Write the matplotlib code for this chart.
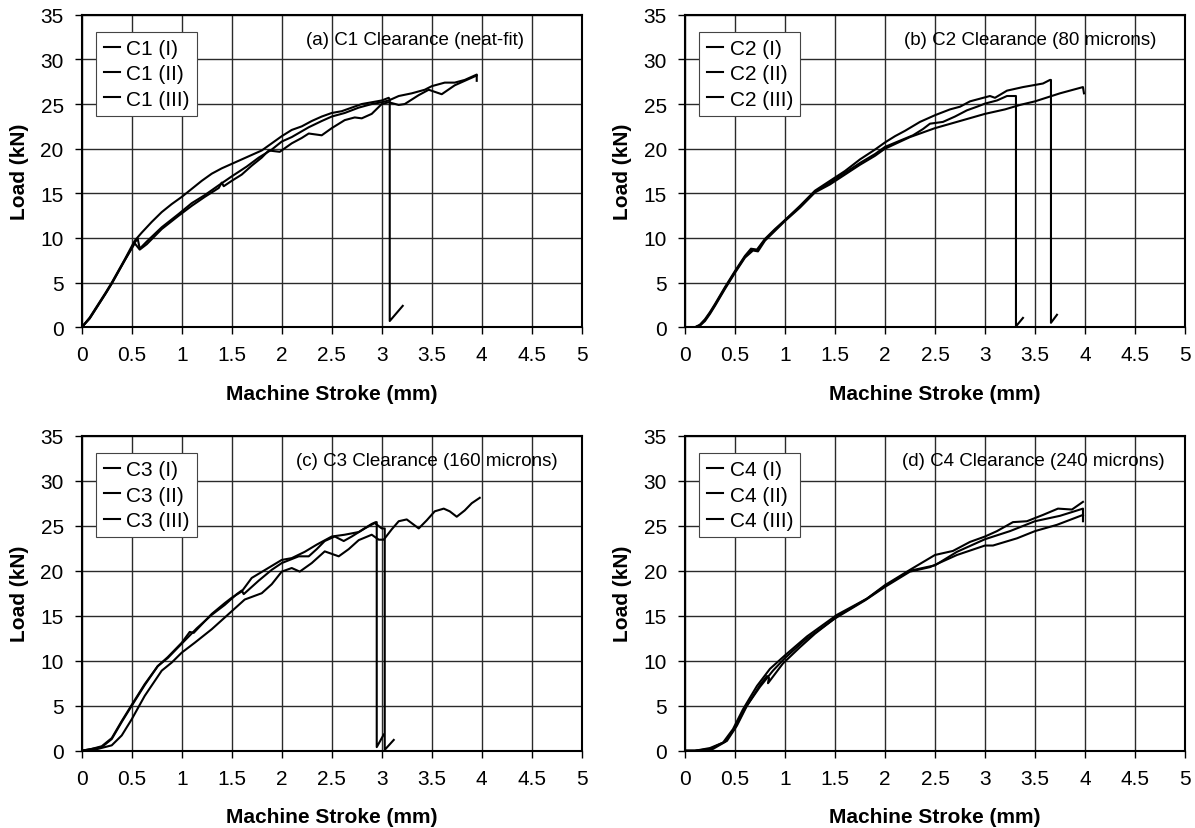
import matplotlib.pyplot as plt
from matplotlib.ticker import FormatStrFormatter

plt.rcParams['font.family'] = ['Liberation Sans', 'DejaVu Sans']

# ---- (a) C1 clearance, neat-fit ----
c1_i_x = [0, 0.08, 0.16, 0.24, 0.3, 0.43, 0.53, 0.6, 0.7, 0.8, 0.9, 1.0, 1.1, 1.2, 1.3, 1.4, 1.5,
          1.6, 1.7, 1.8, 1.9, 2.0, 2.1, 2.2, 2.3, 2.4, 2.5, 2.6, 2.7, 2.8, 2.9, 3.0, 3.07,
          3.08, 3.08, 3.21]
c1_i_y = [0, 1.1, 2.5, 3.9, 5.0, 7.6, 9.7, 10.6, 11.8, 12.9, 13.8, 14.6, 15.5, 16.4, 17.2, 17.8, 18.3,
          18.8, 19.3, 19.8, 20.6, 21.4, 22.1, 22.5, 23.1, 23.6, 24.0, 24.2, 24.6, 25.0, 25.2, 25.4, 25.7,
          25.5, 0.7, 2.4]
c1_ii_x = [0, 0.08, 0.16, 0.24, 0.3, 0.43, 0.53, 0.56, 0.58, 0.65, 0.8, 0.97, 1.1, 1.23, 1.37, 1.5, 1.65,
           1.77, 1.9, 2.0, 2.1, 2.27, 2.4, 2.5, 2.63, 2.77, 2.9, 3.0, 3.07, 3.17, 3.3, 3.43, 3.5,
           3.63, 3.73, 3.83, 3.95, 3.95]
c1_ii_y = [0, 1.0, 2.4, 3.8, 4.9, 7.5, 9.5, 9.9, 8.8, 9.6, 11.2, 12.7, 13.9, 14.8, 15.9, 16.9, 18.0,
           19.0, 19.9, 20.8, 21.3, 22.4, 23.1, 23.6, 24.0, 24.6, 25.0, 25.2, 25.4, 25.9, 26.2, 26.6, 27.0,
           27.4, 27.4, 27.7, 28.3, 27.6]
c1_iii_x = [0, 0.08, 0.16, 0.24, 0.3, 0.43, 0.53, 0.58, 0.65, 0.8, 0.97, 1.1, 1.23, 1.37, 1.4, 1.42, 1.5,
            1.6, 1.7, 1.8, 1.87, 1.98, 2.1, 2.2, 2.27, 2.4, 2.5, 2.63, 2.73, 2.8, 2.9, 3.0, 3.07,
            3.17, 3.23, 3.37, 3.47, 3.6, 3.73, 3.83, 3.95]
c1_iii_y = [0, 1.0, 2.4, 3.8, 4.9, 7.5, 9.4, 8.7, 9.3, 11.0, 12.5, 13.6, 14.6, 15.6, 16.2, 15.8, 16.4,
            17.1, 18.1, 19.0, 19.8, 19.65, 20.6, 21.2, 21.7, 21.5, 22.3, 23.2, 23.5, 23.4, 23.9, 25.0, 25.2,
            24.9, 25.0, 26.0, 26.6, 26.1, 27.1, 27.6, 28.2]

# ---- (b) C2 clearance, 80 microns ----
c2_i_x = [0, 0.1, 0.15, 0.2, 0.25, 0.3, 0.4, 0.5, 0.6, 0.66, 0.72, 0.8, 0.9, 1.0, 1.15, 1.3,
          1.45, 1.6, 1.75, 1.9, 2.0, 2.1, 2.2, 2.35, 2.5, 2.65, 2.75, 2.85, 2.95, 3.05, 3.1, 3.22,
          3.38, 3.48, 3.58, 3.65, 3.66, 3.66, 3.72]
c2_i_y = [0, 0, 0.3, 0.9, 1.7, 2.6, 4.5, 6.3, 8.0, 8.8, 8.7, 9.9, 11.0, 12.0, 13.6, 15.3,
          16.4, 17.5, 18.8, 19.9, 20.7, 21.4, 22.0, 23.0, 23.75, 24.4, 24.7, 25.3, 25.6, 25.9, 25.7, 26.5,
          26.9, 27.1, 27.3, 27.7, 27.7, 0.5, 1.4]
c2_ii_x = [0, 0.1, 0.15, 0.2, 0.25, 0.3, 0.4, 0.5, 0.6, 0.67, 0.72, 0.8, 0.9, 1.0, 1.15, 1.3,
           1.45, 1.6, 1.75, 1.9, 2.0, 2.15, 2.28, 2.38, 2.45, 2.58, 2.7, 2.82, 2.92, 3.0, 3.12, 3.22,
           3.3, 3.31, 3.31, 3.38]
c2_ii_y = [0, 0, 0.2, 0.8, 1.6, 2.5, 4.4, 6.2, 7.9, 8.7, 8.6, 9.8, 10.9, 12.0, 13.5, 15.2,
           16.2, 17.3, 18.4, 19.4, 20.2, 20.9, 21.5, 22.2, 22.8, 23.0, 23.6, 24.3, 24.7, 25.05, 25.4, 25.9,
           25.9, 25.9, 0.1, 1.05]
c2_iii_x = [0, 0.1, 0.15, 0.2, 0.25, 0.3, 0.4, 0.5, 0.6, 0.68, 0.73, 0.8, 0.9, 1.0, 1.15, 1.3,
            1.45, 1.6, 1.75, 1.9, 2.0, 2.25, 2.5, 2.75, 3.0, 3.2, 3.35, 3.5, 3.75, 3.98, 3.99]
c2_iii_y = [0, 0, 0.2, 0.7, 1.5, 2.4, 4.3, 6.1, 7.8, 8.6, 8.5, 9.7, 10.8, 11.9, 13.4, 15.1,
            16.0, 17.1, 18.2, 19.2, 20.0, 21.3, 22.3, 23.1, 23.9, 24.4, 24.9, 25.3, 26.2, 26.9, 26.2]

# ---- (c) C3 clearance, 160 microns ----
c3_i_x = [0, 0.1, 0.2, 0.3, 0.4, 0.5, 0.63, 0.76, 0.86, 1.0, 1.08, 1.12, 1.3, 1.43, 1.5, 1.6,
          1.7, 1.85, 2.0, 2.1, 2.23, 2.35, 2.5, 2.63, 2.77, 2.9, 2.94, 2.95, 2.95, 3.02]
c3_i_y = [0, 0.2, 0.4, 1.3, 3.2, 5.0, 7.3, 9.4, 10.4, 12.0, 13.2, 13.1, 15.2, 16.4, 17.0, 17.7,
          19.2, 20.2, 21.2, 21.4, 22.1, 22.9, 23.8, 24.0, 24.3, 25.2, 25.4, 25.4, 0.4, 1.8]
c3_ii_x = [0, 0.1, 0.2, 0.3, 0.4, 0.5, 0.63, 0.76, 0.86, 1.0, 1.15, 1.3, 1.43, 1.55, 1.6, 1.62,
           1.77, 1.9, 2.0, 2.17, 2.27, 2.35, 2.43, 2.53, 2.62, 2.7, 2.83, 2.93, 3.0, 3.03, 3.03, 3.12]
c3_ii_y = [0, 0.2, 0.5, 1.4, 3.3, 5.1, 7.4, 9.4, 10.3, 11.9, 13.6, 15.1, 16.2, 17.4, 17.8, 17.4,
           18.9, 20.1, 20.85, 21.6, 21.6, 22.4, 23.3, 23.8, 23.3, 23.8, 24.7, 25.3, 24.7, 24.7, 0.1, 1.2]
c3_iii_x = [0, 0.16, 0.3, 0.4, 0.5, 0.63, 0.8, 0.9, 1.0, 1.13, 1.3, 1.43, 1.5, 1.63, 1.8, 1.9,
            2.0, 2.1, 2.18, 2.3, 2.43, 2.57, 2.67, 2.77, 2.9, 2.97, 3.02, 3.1, 3.17, 3.25, 3.37, 3.45,
            3.53, 3.62, 3.68, 3.75, 3.83, 3.9, 3.98]
c3_iii_y = [0, 0.2, 0.6, 1.7, 3.5, 6.1, 8.9, 9.8, 10.9, 12.0, 13.5, 14.8, 15.5, 16.8, 17.5, 18.5,
            19.9, 20.3, 19.9, 20.85, 22.15, 21.6, 22.4, 23.4, 24.0, 23.45, 23.45, 24.6, 25.5, 25.7, 24.7, 25.6,
            26.6, 26.9, 26.6, 26.0, 26.7, 27.5, 28.1]

# ---- (d) C4 clearance, 240 microns ----
c4_i_x = [0, 0.1, 0.25, 0.38, 0.48, 0.58, 0.72, 0.85, 1.0, 1.22, 1.52, 1.82, 2.0, 2.25, 2.5, 2.68,
          2.85, 3.0, 3.12, 3.28, 3.42, 3.58, 3.73, 3.87, 3.98]
c4_i_y = [0, 0.0, 0.3, 0.9, 2.4, 4.6, 7.2, 9.1, 10.6, 12.7, 15.1, 16.9, 18.4, 20.1, 21.75, 22.2,
          23.2, 23.8, 24.4, 25.4, 25.5, 26.2, 26.9, 26.8, 27.65]
c4_ii_x = [0, 0.1, 0.28, 0.42, 0.52, 0.62, 0.75, 0.82, 0.84, 0.83, 0.98, 1.15, 1.3, 1.52, 1.82, 2.0,
           2.25, 2.5, 2.72, 3.0, 3.25, 3.5, 3.75, 3.98, 3.98]
c4_ii_y = [0, 0.0, 0.2, 1.1, 2.8, 5.0, 7.3, 8.3, 8.1, 7.5, 9.7, 11.5, 13.0, 14.9, 16.9, 18.3,
           20.0, 20.6, 22.1, 23.5, 24.4, 25.5, 26.1, 26.9, 25.5]
c4_iii_x = [0, 0.1, 0.25, 0.4, 0.5, 0.6, 0.75, 0.88, 1.0, 1.2, 1.5, 1.8, 2.0, 2.25, 2.45, 2.72,
            3.0, 3.08, 3.32, 3.5, 3.72, 3.98]
c4_iii_y = [0, 0.0, 0.2, 1.0, 2.5, 4.7, 7.1, 8.9, 10.3, 12.3, 14.7, 16.7, 18.2, 19.9, 20.4, 21.75,
            22.8, 22.8, 23.6, 24.4, 25.1, 26.2]

x_ticks = [0, 0.5, 1, 1.5, 2, 2.5, 3, 3.5, 4, 4.5, 5]
y_ticks = [0, 5, 10, 15, 20, 25, 30, 35]


def draw_panel(ax, curves, labels, note, note_x):
    for (x, y), label in zip(curves, labels):
        ax.plot(x, y, color='black', lw=1.5, label=label)

    ax.set_xlim(0, 5)
    ax.set_ylim(0, 35)
    ax.set_xticks(x_ticks)
    ax.set_yticks(y_ticks)
    ax.xaxis.set_major_formatter(FormatStrFormatter('%g'))
    ax.tick_params(labelsize=15, length=5, width=1, pad=8, direction='out')
    ax.grid(True, color='#2a2a2a', lw=1.0)
    ax.set_axisbelow(True)
    for spine in ax.spines.values():
        spine.set_linewidth(1.5)

    ax.set_xlabel('Machine Stroke (mm)', fontsize=15, fontweight='bold')
    ax.set_ylabel('Load (kN)', fontsize=15, fontweight='bold')
    ax.xaxis.set_label_coords(0.5, -0.18)
    ax.yaxis.set_label_coords(-0.105, 0.5)

    ax.text(note_x, 32.2, note, fontsize=13.5, ha='left', va='center')

    leg = ax.legend(loc='upper left', bbox_to_anchor=(0.029, 0.945), fontsize=15,
                    frameon=True, fancybox=False, framealpha=1, edgecolor='#444444',
                    handlelength=0.8, handletextpad=0.3, borderpad=0.35,
                    labelspacing=0.3, borderaxespad=0)
    leg.get_frame().set_linewidth(0.8)


fig = plt.figure(figsize=(11.95, 8.29), dpi=100)

ax_a = fig.add_axes([0.0684, 0.604, 0.4184, 0.377])
ax_b = fig.add_axes([0.5732, 0.604, 0.4184, 0.377])
ax_c = fig.add_axes([0.0684, 0.0932, 0.4184, 0.380])
ax_d = fig.add_axes([0.5732, 0.0932, 0.4184, 0.380])

draw_panel(ax_a, [(c1_i_x, c1_i_y), (c1_ii_x, c1_ii_y), (c1_iii_x, c1_iii_y)],
           ['C1 (I)', 'C1 (II)', 'C1 (III)'], '(a) C1 Clearance (neat-fit)', 2.24)
draw_panel(ax_b, [(c2_i_x, c2_i_y), (c2_ii_x, c2_ii_y), (c2_iii_x, c2_iii_y)],
           ['C2 (I)', 'C2 (II)', 'C2 (III)'], '(b) C2 Clearance (80 microns)', 2.19)
draw_panel(ax_c, [(c3_i_x, c3_i_y), (c3_ii_x, c3_ii_y), (c3_iii_x, c3_iii_y)],
           ['C3 (I)', 'C3 (II)', 'C3 (III)'], '(c) C3 Clearance (160 microns)', 2.14)
draw_panel(ax_d, [(c4_i_x, c4_i_y), (c4_ii_x, c4_ii_y), (c4_iii_x, c4_iii_y)],
           ['C4 (I)', 'C4 (II)', 'C4 (III)'], '(d) C4 Clearance (240 microns)', 2.17)

plt.savefig('out.png', dpi=100)
